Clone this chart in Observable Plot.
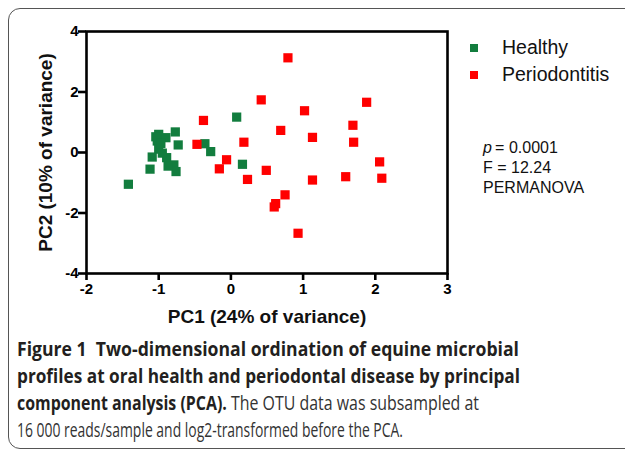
<!DOCTYPE html>
<html>
<head>
<meta charset="utf-8">
<script src="https://cdn.jsdelivr.net/npm/d3@7"></script>
<script src="https://cdn.jsdelivr.net/npm/@observablehq/plot@0.6"></script>
<style>
  html, body { margin: 0; padding: 0; background: #fff; }
  #wrap { position: relative; width: 625px; height: 450px; overflow: hidden; background: #fff; }
  #box { position: absolute; left: 8px; top: 8px; width: 700px; height: 439px; border: 1.3px solid #555; border-radius: 12px; }
  #chart { position: absolute; left: 0; top: 0; }
  #legend { position: absolute; left: 470px; top: 34px; font-family: "Liberation Sans", Arial, sans-serif; font-size: 19.5px; color: #111; }
  .lrow { height: 27px; display: flex; align-items: center; }
  .sw { width: 8px; height: 8px; margin-right: 24px; }
  #stats { position: absolute; left: 483px; top: 138px; font-family: "Liberation Sans", Arial, sans-serif; font-size: 16px; line-height: 20px; color: #111; }
  #caption { position: absolute; left: 17px; top: 334.5px; font-family: "Open Sans", "Noto Sans", sans-serif; font-size: 20px; line-height: 27px; color: #231f20; }
  .cl { white-space: pre; transform-origin: 0 50%; width: max-content; }
  .b { font-weight: 700; }
  .r { font-weight: 400; color: #333; }
</style>
</head>
<body>
<div id="wrap">
  <div id="box"></div>
  <div id="chart"></div>
  <div id="legend"></div>
  <div id="stats"></div>
  <div id="caption"></div>
</div>
<script>
// ---- data ----
const groups = ["Healthy", "Periodontitis"];
const groupColors = ["#127d3e", "#ff0000"];

const healthyPC1 = [-1.00, -0.90, -0.77, -1.02, -0.73, -1.00, -1.09, -0.89, -0.79, -0.76, -0.87, -1.12, -1.42, -0.36, -0.28, 0.08, 0.16, -1.04, -0.97, -0.95];
const healthyPC2 = [0.60, 0.49, 0.68, 0.38, 0.25, 0.11, -0.15, -0.17, -0.41, -0.63, -0.45, -0.55, -1.05, 0.29, 0.03, 1.17, -0.39, 0.52, 0.30, -0.02];

const periodontitisPC1 = [0.79, 0.42, 1.88, 1.02, -0.38, 1.69, 0.69, 1.13, 1.70, 0.18, -0.47, -0.06, 2.06, -0.16, 0.49, 0.23, 1.13, 1.59, 2.09, 0.75, 0.62, 0.60, 0.93];
const periodontitisPC2 = [3.13, 1.74, 1.66, 1.38, 1.06, 0.90, 0.73, 0.50, 0.34, 0.34, 0.27, -0.24, -0.31, -0.54, -0.59, -0.89, -0.91, -0.80, -0.85, -1.40, -1.69, -1.80, -2.67];

const xTicks = [-2, -1, 0, 1, 2, 3];
const yTicks = [-4, -2, 0, 2, 4];
const xLabel = "PC1 (24% of variance)";
const yLabel = "PC2 (10% of variance)";
const statsLines = ["= 0.0001", "F = 12.24", "PERMANOVA"];

const captionBold1 = "Figure 1  Two-dimensional ordination of equine microbial";
const captionBold2 = "profiles at oral health and periodontal disease by principal";
const captionBold3 = "component analysis (PCA).";
const captionReg3 = " The OTU data was subsampled at";
const captionReg4 = "16\u00a0000 reads/sample and log2-transformed before the PCA.";

// ---- table ----
const points = [
  ...healthyPC1.map((v, i) => ({group: groups[0], pc1: v, pc2: healthyPC2[i]})),
  ...periodontitisPC1.map((v, i) => ({group: groups[1], pc1: v, pc2: periodontitisPC2[i]}))
];

const font = "'Liberation Sans', Arial, sans-serif";

const chart = Plot.plot({
  width: 625,
  height: 340,
  marginLeft: 86,
  marginRight: 178,
  marginTop: 31,
  marginBottom: 67,
  style: {fontFamily: font, fontSize: "15px", color: "#000", background: "transparent"},
  x: {domain: [-2, 3]},
  y: {domain: [-4, 4]},
  color: {domain: groups, range: groupColors},
  marks: [
    Plot.dot(points, {x: "pc1", y: "pc2", fill: "group", symbol: "square", r: 5.2, stroke: null}),
    Plot.frame({stroke: "#000", strokeWidth: 2.6}),
    Plot.axisX({ticks: xTicks, tickFormat: d => String(d), tickSize: 7, tickPadding: 3, strokeWidth: 2.6, fontWeight: "bold", fontSize: 15, label: null}),
    Plot.axisY({ticks: yTicks, tickFormat: d => String(d), tickSize: 8, tickPadding: 0, strokeWidth: 2.6, fontWeight: "bold", fontSize: 15, label: null}),
    Plot.text([xLabel], {frameAnchor: "bottom", dy: 49, fontSize: 19, fontWeight: "bold", fill: "#111"}),
    Plot.text([yLabel], {frameAnchor: "left", textAnchor: "middle", rotate: -90, dx: -41, fontSize: 19, fontWeight: "bold", fill: "#111"})
  ]
});
document.getElementById("chart").appendChild(chart);

// legend
const legend = document.getElementById("legend");
groups.forEach((g, i) => {
  const row = document.createElement("div");
  row.className = "lrow";
  const sw = document.createElement("div");
  sw.className = "sw";
  sw.style.background = groupColors[i];
  const t = document.createElement("span");
  t.textContent = g;
  row.appendChild(sw); row.appendChild(t);
  legend.appendChild(row);
});

// stats
const stats = document.getElementById("stats");
stats.innerHTML = `<div><i>p</i>\u2009${statsLines[0]}</div><div>${statsLines[1]}</div><div>${statsLines[2]}</div>`;

// caption
const cap = document.getElementById("caption");
const lines = [
  {html: `<span class="b">${captionBold1}</span>`, w: 502},
  {html: `<span class="b">${captionBold2}</span>`, w: 503},
  {html: `<span class="b">${captionBold3}</span><span class="r">${captionReg3}</span>`, w: 462},
  {html: `<span class="r">${captionReg4}</span>`, w: 386}
];
lines.forEach(l => {
  const d = document.createElement("div");
  d.className = "cl";
  d.innerHTML = l.html;
  cap.appendChild(d);
  const w = d.getBoundingClientRect().width;
  d.style.transform = `scaleX(${l.w / w})`;
});
</script>
</body>
</html>
